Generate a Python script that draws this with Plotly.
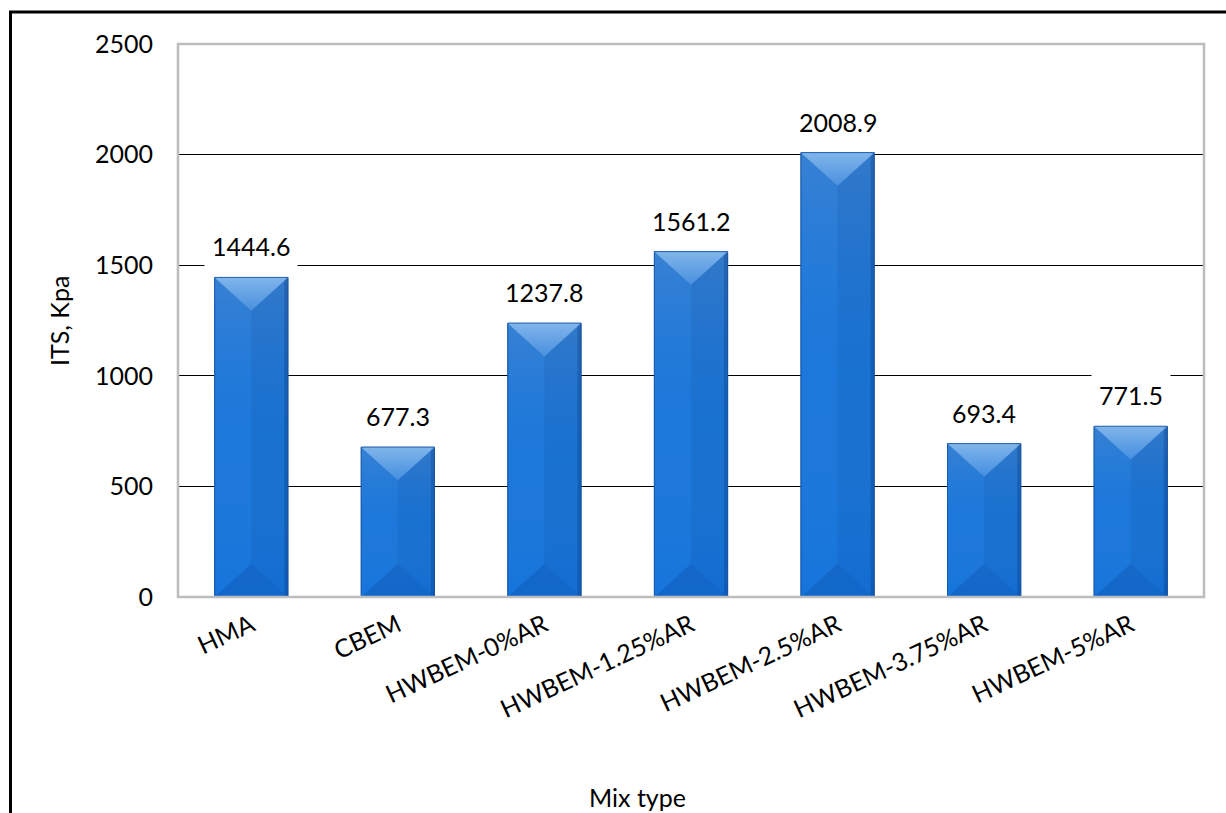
import plotly.graph_objects as go

# Indirect tensile strength by mix type
mix_types = ["HMA", "CBEM", "HWBEM-0%AR", "HWBEM-1.25%AR",
             "HWBEM-2.5%AR", "HWBEM-3.75%AR", "HWBEM-5%AR"]
its_kpa = [1444.6, 677.3, 1237.8, 1561.2, 2008.9, 693.4, 771.5]
y_ticks = [0, 500, 1000, 1500, 2000, 2500]

FONT = "Lato"
FS = 25
BAR_W = 0.5
HALF = BAR_W / 2
BEVEL = 150          # depth of the bevelled top/bottom facets, in y units
EDGE = 0.025         # width of the shaded right-hand rim, in x units

xs = list(range(len(mix_types)))

fig = go.Figure()

# Base bars
fig.add_trace(go.Bar(
    x=xs, y=its_kpa, width=BAR_W,
    marker=dict(color="#1C78DA", line=dict(color="#1560B8", width=1)),
    hoverinfo="skip", showlegend=False,
))

# Bevel facets layered on top of each bar
for x, v in zip(xs, its_kpa):
    l, r = x - HALF, x + HALF
    d = min(BEVEL, v / 2)
    # vertical shading over the whole bar: muted near top, vivid near bottom
    fig.add_trace(go.Scatter(
        x=[l, r, r, l, l], y=[0, 0, v, v, 0], mode="lines",
        line=dict(width=0), fill="toself",
        fillgradient=dict(type="vertical",
                          colorscale=[[0, "rgba(0,105,225,0.25)"],
                                      [0.5, "rgba(60,130,210,0.0)"],
                                      [1, "rgba(120,150,195,0.30)"]]),
        hoverinfo="skip", showlegend=False,
    ))
    # right-hand face, slightly darker
    fig.add_trace(go.Scatter(
        x=[x, r, r, x, x], y=[d, 0, v, v - d, d], mode="lines",
        line=dict(width=0), fill="toself", fillcolor="rgba(0,40,110,0.09)",
        hoverinfo="skip", showlegend=False,
    ))
    # darker rim along the right edge
    fig.add_trace(go.Scatter(
        x=[r - EDGE, r, r, r - EDGE, r - EDGE], y=[0, 0, v, v, 0], mode="lines",
        line=dict(width=0), fill="toself", fillcolor="rgba(0,30,90,0.22)",
        hoverinfo="skip", showlegend=False,
    ))
    # top facet, light
    fig.add_trace(go.Scatter(
        x=[l, r, x, l], y=[v, v, v - d, v], mode="lines",
        line=dict(width=0), fill="toself",
        fillgradient=dict(type="vertical",
                          colorscale=[[0, "rgba(170,210,255,0.22)"],
                                      [1, "rgba(190,225,255,0.55)"]]),
        hoverinfo="skip", showlegend=False,
    ))
    # bottom facet, dark
    fig.add_trace(go.Scatter(
        x=[l, r, x, l], y=[0, 0, d, 0], mode="lines",
        line=dict(width=0), fill="toself", fillcolor="rgba(0,45,120,0.18)",
        hoverinfo="skip", showlegend=False,
    ))
    # thin edge outline
    fig.add_trace(go.Scatter(
        x=[l, r, r, l, l], y=[0, 0, v, v, 0], mode="lines",
        line=dict(width=1, color="rgba(20,80,160,0.6)"),
        hoverinfo="skip", showlegend=False,
    ))

# Value labels with white backing
for x, v in zip(xs, its_kpa):
    fig.add_annotation(
        x=x, y=v, text=f"{v:.1f}", showarrow=False,
        yanchor="middle", yshift=31,
        font=dict(family=FONT, size=FS, color="black"),
        bgcolor="white", borderpad=7,
    )

# Axis titles
fig.add_annotation(
    x=(59 - 178) / 1026, y=(597 - 321) / 553, xref="paper", yref="paper",
    xanchor="center", yanchor="middle",
    text="ITS, Kpa", textangle=-90, showarrow=False,
    font=dict(family=FONT, size=FS, color="black"),
)
fig.add_annotation(
    x=(637 - 178) / 1026, y=(597 - 797) / 553, xref="paper", yref="paper",
    xanchor="center", yanchor="middle",
    text="Mix type", showarrow=False,
    font=dict(family=FONT, size=FS, color="black"),
)

# Plot-area border and outer frame
fig.add_shape(type="rect", xref="paper", yref="paper",
              x0=0, y0=0, x1=1, y1=1,
              line=dict(color="#BDBDBD", width=2.5), layer="above")
fig.add_shape(type="rect", xref="paper", yref="paper",
              x0=(10.5 - 178) / 1026, y0=-0.6, x1=1.2, y1=(597 - 12) / 553,
              line=dict(color="black", width=3), layer="above")

fig.update_layout(
    width=1226, height=813,
    margin=dict(l=178, r=22, t=44, b=216),
    paper_bgcolor="white", plot_bgcolor="white",
    showlegend=False, bargap=0.5,
    font=dict(family=FONT, size=FS, color="black"),
    xaxis=dict(
        range=[-0.5, len(mix_types) - 0.5],
        tickvals=xs, ticktext=mix_types, tickangle=-25,
        showgrid=False, zeroline=False, showline=False, ticks="",
        ticklabelstandoff=8,
        tickfont=dict(family=FONT, size=FS, color="black"),
    ),
    yaxis=dict(
        range=[0, 2500], tickvals=y_ticks,
        showgrid=True, gridcolor="black", gridwidth=1,
        zeroline=False, showline=False, ticks="",
        ticklabelstandoff=24,
        tickfont=dict(family=FONT, size=FS, color="black"),
    ),
)

fig.write_html("out.html")
